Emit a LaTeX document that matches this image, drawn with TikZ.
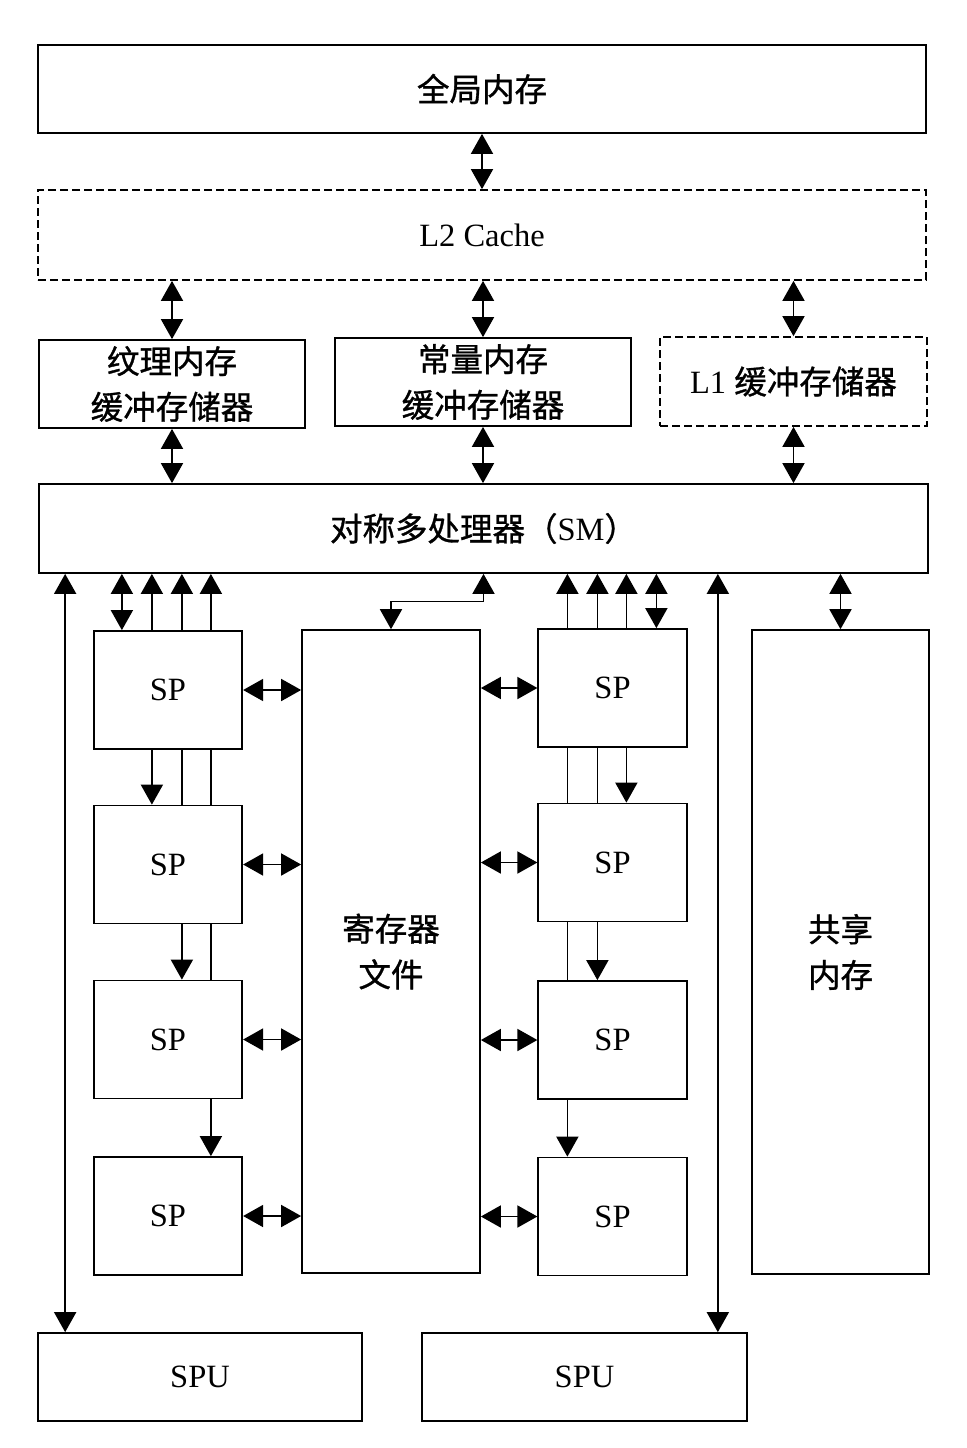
\documentclass[tikz,border=0pt]{standalone}
\usepackage{fontspec}
\setmainfont{Liberation Serif}
\newfontfamily\cjk[FakeBold=1]{Noto Sans CJK SC}
\usetikzlibrary{arrows.meta,calc}

\tikzset{
	blk/.style={draw, line width=1pt, inner sep=0pt, align=center, font=\fontsize{18.5pt}{26pt}\selectfont},
	dblk/.style={blk, dash pattern=on 1.6mm off 0.8mm},
	arr/.style={line width=1pt, -{Triangle[length=4mm,width=4.4mm]}},
	dub/.style={line width=1pt, {Triangle[length=4mm,width=4.4mm]}-{Triangle[length=4mm,width=4.4mm]}},
	spbox/.style={blk, minimum width=2.97cm, minimum height=2.36cm},
}

\begin{document}
\begin{tikzpicture}[x=0.02cm, y=-0.02cm]
	\useasboundingbox (0,0) rectangle (967,1448);
	% memory levels
	\node[blk, minimum width=17.76cm, minimum height=1.76cm] (glob) at (482,89) {\cjk 全局内存};
	\node[dblk, minimum width=17.76cm, minimum height=1.8cm] (l2) at (482,235) {L2 Cache};
	\node[blk, minimum width=5.32cm, minimum height=1.76cm] (tex) at (172,384) {\cjk 纹理内存\\\cjk 缓冲存储器};
	\node[blk, minimum width=5.92cm, minimum height=1.76cm] (con) at (483,382) {\cjk 常量内存\\\cjk 缓冲存储器};
	\node[dblk, minimum width=5.34cm, minimum height=1.78cm] (l1) at (793.5,381.5) {L1 {\cjk 缓冲存储器}};
	\node[blk, minimum width=17.78cm, minimum height=1.78cm] (sm) at (483.5,528.5) {{\cjk 对称多处理器（}SM{\cjk ）}};
	\draw[dub] (glob.south) -- (l2.north);
	\draw[dub] (l2.south -| tex.north) -- (tex.north); \draw[dub] (l2.south -| con.north) -- (con.north);
	\draw[dub] (l2.south -| l1.north) -- (l1.north);
	\draw[dub] (tex.south) -- (tex.south |- sm.north); \draw[dub] (con.south) -- (con.south |- sm.north);
	\draw[dub] (l1.south) -- (l1.south |- sm.north);

	% SP columns, register file, shared memory
	\node[spbox] (lsp1) at (168,690) {SP};
	\node[spbox] (lsp2) at (168,864.5) {SP};
	\node[spbox] (lsp3) at (168,1039.5) {SP};
	\node[spbox] (lsp4) at (168,1216) {SP};
	\node[spbox] (rsp1) at (612.5,688) {SP};
	\node[spbox] (rsp2) at (612.5,862.5) {SP};
	\node[spbox] (rsp3) at (612.5,1040) {SP};
	\node[spbox] (rsp4) at (612.5,1216.5) {SP};
	\node[blk, minimum width=3.56cm, minimum height=12.86cm] (reg) at (391,951.5) {\cjk 寄存器\\\cjk 文件};
	\node[blk, minimum width=3.54cm, minimum height=12.88cm] (shm) at (840.5,952) {\cjk 共享\\\cjk 内存};
	\node[blk, minimum width=6.48cm, minimum height=1.76cm] (spu1) at (200,1377) {SPU};
	\node[blk, minimum width=6.5cm, minimum height=1.76cm] (spu2) at (584.5,1377) {SPU};

	% left column to SM
	\draw[dub] ($(lsp1.north west)+(29,0)$) -- ($(lsp1.north west |- sm.south)+(29,0)$);
	\draw[arr] ($(lsp1.north west)+(59,0)$) -- ($(lsp1.north west |- sm.south)+(59,0)$);
	\draw[arr] ($(lsp1.north west)+(89,0)$) -- ($(lsp1.north west |- sm.south)+(89,0)$);
	\draw[arr] ($(lsp1.north west)+(118,0)$) -- ($(lsp1.north west |- sm.south)+(118,0)$);
	\draw[arr] ($(lsp1.south west)+(59,0)$) -- ($(lsp2.north west)+(59,0)$);
	\draw[line width=1pt] ($(lsp1.south west)+(89,0)$) -- ($(lsp2.north west)+(89,0)$);
	\draw[line width=1pt] ($(lsp1.south west)+(118,0)$) -- ($(lsp2.north west)+(118,0)$);
	\draw[arr] ($(lsp2.south west)+(89,0)$) -- ($(lsp3.north west)+(89,0)$);
	\draw[line width=1pt] ($(lsp2.south west)+(118,0)$) -- ($(lsp3.north west)+(118,0)$);
	\draw[arr] ($(lsp3.south west)+(118,0)$) -- ($(lsp4.north west)+(118,0)$);

	% right column to SM
	\draw[arr] ($(rsp1.north west)+(30,0)$) -- ($(rsp1.north west |- sm.south)+(30,0)$);
	\draw[arr] ($(rsp1.north west)+(60,0)$) -- ($(rsp1.north west |- sm.south)+(60,0)$);
	\draw[arr] ($(rsp1.north west)+(89,0)$) -- ($(rsp1.north west |- sm.south)+(89,0)$);
	\draw[dub] ($(rsp1.north west)+(119,0)$) -- ($(rsp1.north west |- sm.south)+(119,0)$);
	\draw[line width=1pt] ($(rsp1.south west)+(30,0)$) -- ($(rsp2.north west)+(30,0)$);
	\draw[line width=1pt] ($(rsp1.south west)+(60,0)$) -- ($(rsp2.north west)+(60,0)$);
	\draw[arr] ($(rsp1.south west)+(89,0)$) -- ($(rsp2.north west)+(89,0)$);
	\draw[line width=1pt] ($(rsp2.south west)+(30,0)$) -- ($(rsp3.north west)+(30,0)$);
	\draw[arr] ($(rsp2.south west)+(60,0)$) -- ($(rsp3.north west)+(60,0)$);
	\draw[arr] ($(rsp3.south west)+(30,0)$) -- ($(rsp4.north west)+(30,0)$);

	% SP <-> register file
	\draw[dub] (lsp1.east) -- (lsp1.east -| reg.west); \draw[dub] (reg.east |- rsp1.west) -- (rsp1.west);
	\draw[dub] (lsp2.east) -- (lsp2.east -| reg.west); \draw[dub] (reg.east |- rsp2.west) -- (rsp2.west);
	\draw[dub] (lsp3.east) -- (lsp3.east -| reg.west); \draw[dub] (reg.east |- rsp3.west) -- (rsp3.west);
	\draw[dub] (lsp4.east) -- (lsp4.east -| reg.west); \draw[dub] (reg.east |- rsp4.west) -- (rsp4.west);

	% register file, shared memory, SPU to SM
	\draw[dub] (reg.north) |- ($(reg.north)!0.5!(sm.south)$) -| (sm.south);
	\draw[dub] (shm.north) -- (shm.north |- sm.south);
	\draw[dub] ($(spu1.north west)+(28,0)$) -- ($(spu1.north west |- sm.south)+(28,0)$);
	\draw[dub] ($(spu2.north east)+(-30,0)$) -- ($(spu2.north east |- sm.south)+(-30,0)$);
\end{tikzpicture}
\end{document}
